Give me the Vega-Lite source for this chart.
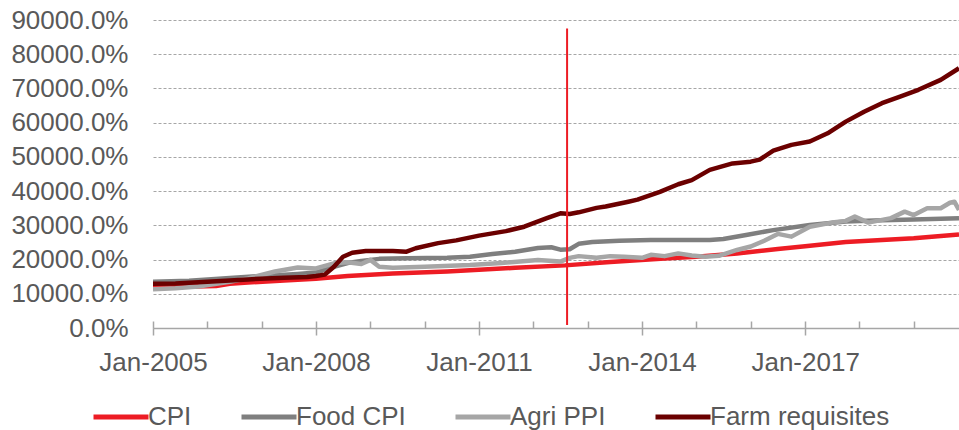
{
  "$schema": "https://vega.github.io/schema/vega-lite/v6.json",
  "width": 806,
  "height": 308,
  "autosize": {"type": "none"},
  "padding": {"left": 153, "top": 20, "right": 0, "bottom": 102},
  "config": {
    "view": {"stroke": null},
    "font": "Liberation Sans",
    "axis": {
      "labelFont": "Liberation Sans",
      "labelFontSize": 26,
      "labelColor": "#595959",
      "domainColor": "#A6A6A6",
      "tickColor": "#A6A6A6",
      "domainWidth": 1.5,
      "tickWidth": 1.5
    }
  },
  "resolve": {"axis": {"x": "independent", "y": "independent"}},
  "layer": [
    {
      "data": {"values": [
        {"date": "2005-01-01", "series": "CPI", "value": 12000},
        {"date": "2005-10-01", "series": "CPI", "value": 12100},
        {"date": "2006-03-01", "series": "CPI", "value": 12300},
        {"date": "2006-06-01", "series": "CPI", "value": 12900},
        {"date": "2006-10-01", "series": "CPI", "value": 13300},
        {"date": "2007-06-01", "series": "CPI", "value": 13900},
        {"date": "2008-01-01", "series": "CPI", "value": 14400},
        {"date": "2008-08-01", "series": "CPI", "value": 15200},
        {"date": "2009-06-01", "series": "CPI", "value": 15900},
        {"date": "2010-06-01", "series": "CPI", "value": 16500},
        {"date": "2011-01-01", "series": "CPI", "value": 17000},
        {"date": "2011-09-01", "series": "CPI", "value": 17600},
        {"date": "2012-08-01", "series": "CPI", "value": 18300},
        {"date": "2013-06-01", "series": "CPI", "value": 19300},
        {"date": "2014-06-01", "series": "CPI", "value": 20300},
        {"date": "2015-01-01", "series": "CPI", "value": 20800},
        {"date": "2015-10-01", "series": "CPI", "value": 21800},
        {"date": "2016-07-01", "series": "CPI", "value": 23100},
        {"date": "2017-01-01", "series": "CPI", "value": 23900},
        {"date": "2017-10-01", "series": "CPI", "value": 25100},
        {"date": "2018-06-01", "series": "CPI", "value": 25700},
        {"date": "2019-01-01", "series": "CPI", "value": 26200},
        {"date": "2019-11-01", "series": "CPI", "value": 27300},

        {"date": "2005-01-01", "series": "Food CPI", "value": 13500},
        {"date": "2005-09-01", "series": "Food CPI", "value": 13800},
        {"date": "2006-06-01", "series": "Food CPI", "value": 14600},
        {"date": "2007-01-01", "series": "Food CPI", "value": 15200},
        {"date": "2007-09-01", "series": "Food CPI", "value": 15800},
        {"date": "2008-01-01", "series": "Food CPI", "value": 16200},
        {"date": "2008-05-01", "series": "Food CPI", "value": 17900},
        {"date": "2008-08-01", "series": "Food CPI", "value": 19000},
        {"date": "2008-11-01", "series": "Food CPI", "value": 19600},
        {"date": "2009-03-01", "series": "Food CPI", "value": 20200},
        {"date": "2009-09-01", "series": "Food CPI", "value": 20400},
        {"date": "2010-06-01", "series": "Food CPI", "value": 20500},
        {"date": "2010-11-01", "series": "Food CPI", "value": 20800},
        {"date": "2011-04-01", "series": "Food CPI", "value": 21600},
        {"date": "2011-09-01", "series": "Food CPI", "value": 22300},
        {"date": "2012-02-01", "series": "Food CPI", "value": 23400},
        {"date": "2012-05-01", "series": "Food CPI", "value": 23600},
        {"date": "2012-07-01", "series": "Food CPI", "value": 22900},
        {"date": "2012-09-01", "series": "Food CPI", "value": 23000},
        {"date": "2012-11-01", "series": "Food CPI", "value": 24600},
        {"date": "2013-02-01", "series": "Food CPI", "value": 25100},
        {"date": "2013-08-01", "series": "Food CPI", "value": 25500},
        {"date": "2014-03-01", "series": "Food CPI", "value": 25700},
        {"date": "2014-09-01", "series": "Food CPI", "value": 25700},
        {"date": "2015-04-01", "series": "Food CPI", "value": 25700},
        {"date": "2015-07-01", "series": "Food CPI", "value": 26000},
        {"date": "2015-12-01", "series": "Food CPI", "value": 27200},
        {"date": "2016-06-01", "series": "Food CPI", "value": 28600},
        {"date": "2017-02-01", "series": "Food CPI", "value": 30100},
        {"date": "2017-10-01", "series": "Food CPI", "value": 31100},
        {"date": "2018-06-01", "series": "Food CPI", "value": 31500},
        {"date": "2019-01-01", "series": "Food CPI", "value": 31700},
        {"date": "2019-11-01", "series": "Food CPI", "value": 32100},

        {"date": "2005-01-01", "series": "Agri PPI", "value": 11300},
        {"date": "2005-06-01", "series": "Agri PPI", "value": 11600},
        {"date": "2005-11-01", "series": "Agri PPI", "value": 12100},
        {"date": "2006-06-01", "series": "Agri PPI", "value": 13500},
        {"date": "2006-10-01", "series": "Agri PPI", "value": 14500},
        {"date": "2007-04-01", "series": "Agri PPI", "value": 16500},
        {"date": "2007-09-01", "series": "Agri PPI", "value": 17700},
        {"date": "2008-01-01", "series": "Agri PPI", "value": 17400},
        {"date": "2008-05-01", "series": "Agri PPI", "value": 18900},
        {"date": "2008-08-01", "series": "Agri PPI", "value": 19200},
        {"date": "2008-11-01", "series": "Agri PPI", "value": 18700},
        {"date": "2009-01-01", "series": "Agri PPI", "value": 19900},
        {"date": "2009-03-01", "series": "Agri PPI", "value": 17900},
        {"date": "2009-06-01", "series": "Agri PPI", "value": 17600},
        {"date": "2010-01-01", "series": "Agri PPI", "value": 17900},
        {"date": "2010-11-01", "series": "Agri PPI", "value": 18400},
        {"date": "2011-06-01", "series": "Agri PPI", "value": 19000},
        {"date": "2012-02-01", "series": "Agri PPI", "value": 19900},
        {"date": "2012-07-01", "series": "Agri PPI", "value": 19400},
        {"date": "2012-09-01", "series": "Agri PPI", "value": 20500},
        {"date": "2012-11-01", "series": "Agri PPI", "value": 21000},
        {"date": "2013-03-01", "series": "Agri PPI", "value": 20500},
        {"date": "2013-06-01", "series": "Agri PPI", "value": 21000},
        {"date": "2013-09-01", "series": "Agri PPI", "value": 20800},
        {"date": "2014-01-01", "series": "Agri PPI", "value": 20500},
        {"date": "2014-03-01", "series": "Agri PPI", "value": 21400},
        {"date": "2014-06-01", "series": "Agri PPI", "value": 21000},
        {"date": "2014-09-01", "series": "Agri PPI", "value": 21800},
        {"date": "2014-12-01", "series": "Agri PPI", "value": 21200},
        {"date": "2015-03-01", "series": "Agri PPI", "value": 20800},
        {"date": "2015-06-01", "series": "Agri PPI", "value": 21100},
        {"date": "2015-10-01", "series": "Agri PPI", "value": 22800},
        {"date": "2016-01-01", "series": "Agri PPI", "value": 23800},
        {"date": "2016-04-01", "series": "Agri PPI", "value": 25500},
        {"date": "2016-07-01", "series": "Agri PPI", "value": 27500},
        {"date": "2016-10-01", "series": "Agri PPI", "value": 26700},
        {"date": "2017-02-01", "series": "Agri PPI", "value": 29600},
        {"date": "2017-07-01", "series": "Agri PPI", "value": 30800},
        {"date": "2017-10-01", "series": "Agri PPI", "value": 31300},
        {"date": "2017-12-01", "series": "Agri PPI", "value": 32600},
        {"date": "2018-03-01", "series": "Agri PPI", "value": 30800},
        {"date": "2018-08-01", "series": "Agri PPI", "value": 32100},
        {"date": "2018-11-01", "series": "Agri PPI", "value": 34000},
        {"date": "2019-01-01", "series": "Agri PPI", "value": 33000},
        {"date": "2019-04-01", "series": "Agri PPI", "value": 35000},
        {"date": "2019-07-01", "series": "Agri PPI", "value": 35000},
        {"date": "2019-09-01", "series": "Agri PPI", "value": 36600},
        {"date": "2019-10-01", "series": "Agri PPI", "value": 36900},
        {"date": "2019-11-01", "series": "Agri PPI", "value": 34500},

        {"date": "2005-01-01", "series": "Farm requisites", "value": 12900},
        {"date": "2005-06-01", "series": "Farm requisites", "value": 13000},
        {"date": "2006-01-01", "series": "Farm requisites", "value": 13500},
        {"date": "2006-10-01", "series": "Farm requisites", "value": 14200},
        {"date": "2007-06-01", "series": "Farm requisites", "value": 14700},
        {"date": "2007-11-01", "series": "Farm requisites", "value": 14900},
        {"date": "2008-01-01", "series": "Farm requisites", "value": 15200},
        {"date": "2008-03-01", "series": "Farm requisites", "value": 15600},
        {"date": "2008-05-01", "series": "Farm requisites", "value": 17900},
        {"date": "2008-07-01", "series": "Farm requisites", "value": 20800},
        {"date": "2008-09-01", "series": "Farm requisites", "value": 22000},
        {"date": "2008-12-01", "series": "Farm requisites", "value": 22500},
        {"date": "2009-06-01", "series": "Farm requisites", "value": 22500},
        {"date": "2009-09-01", "series": "Farm requisites", "value": 22300},
        {"date": "2009-11-01", "series": "Farm requisites", "value": 23300},
        {"date": "2010-04-01", "series": "Farm requisites", "value": 24800},
        {"date": "2010-08-01", "series": "Farm requisites", "value": 25600},
        {"date": "2011-01-01", "series": "Farm requisites", "value": 27000},
        {"date": "2011-07-01", "series": "Farm requisites", "value": 28300},
        {"date": "2011-11-01", "series": "Farm requisites", "value": 29600},
        {"date": "2012-04-01", "series": "Farm requisites", "value": 32100},
        {"date": "2012-07-01", "series": "Farm requisites", "value": 33500},
        {"date": "2012-09-01", "series": "Farm requisites", "value": 33300},
        {"date": "2012-11-01", "series": "Farm requisites", "value": 33800},
        {"date": "2013-03-01", "series": "Farm requisites", "value": 35100},
        {"date": "2013-05-01", "series": "Farm requisites", "value": 35500},
        {"date": "2013-10-01", "series": "Farm requisites", "value": 36900},
        {"date": "2013-12-01", "series": "Farm requisites", "value": 37500},
        {"date": "2014-05-01", "series": "Farm requisites", "value": 39800},
        {"date": "2014-09-01", "series": "Farm requisites", "value": 42000},
        {"date": "2014-12-01", "series": "Farm requisites", "value": 43200},
        {"date": "2015-04-01", "series": "Farm requisites", "value": 46200},
        {"date": "2015-09-01", "series": "Farm requisites", "value": 48100},
        {"date": "2016-01-01", "series": "Farm requisites", "value": 48600},
        {"date": "2016-03-01", "series": "Farm requisites", "value": 49200},
        {"date": "2016-06-01", "series": "Farm requisites", "value": 51800},
        {"date": "2016-10-01", "series": "Farm requisites", "value": 53500},
        {"date": "2017-02-01", "series": "Farm requisites", "value": 54500},
        {"date": "2017-06-01", "series": "Farm requisites", "value": 56900},
        {"date": "2017-10-01", "series": "Farm requisites", "value": 60300},
        {"date": "2018-02-01", "series": "Farm requisites", "value": 63200},
        {"date": "2018-06-01", "series": "Farm requisites", "value": 65700},
        {"date": "2018-10-01", "series": "Farm requisites", "value": 67600},
        {"date": "2019-02-01", "series": "Farm requisites", "value": 69600},
        {"date": "2019-07-01", "series": "Farm requisites", "value": 72500},
        {"date": "2019-11-01", "series": "Farm requisites", "value": 75900}
      ]},
      "mark": {"type": "line", "strokeWidth": 4.5, "strokeJoin": "round", "clip": true},
      "encoding": {
        "x": {
          "field": "date", "type": "temporal",
          "scale": {"type": "utc", "domain": [1104537600000, 1572566400000]},
          "axis": {
            "orient": "bottom", "title": null,
            "values": [1104537600000, 1136073600000, 1167609600000, 1199145600000, 1230768000000, 1262304000000, 1293840000000, 1325376000000, 1356998400000, 1388534400000, 1420070400000, 1451606400000, 1483228800000, 1514764800000, 1546300800000],
            "tickSize": -7, "labels": false, "grid": false, "domain": true
          }
        },
        "y": {
          "field": "value", "type": "quantitative",
          "scale": {"domain": [0, 90000], "nice": false},
          "axis": {
            "title": null,
            "values": [0, 10000, 20000, 30000, 40000, 50000, 60000, 70000, 80000, 90000],
            "labelExpr": "format(datum.value, '.1f') + '%'",
            "labelOverlap": false,
            "domain": false, "ticks": false, "grid": true,
            "gridColor": "#A6A6A6", "gridDash": [3, 2], "gridWidth": 1,
            "labelPadding": 25
          }
        },
        "color": {
          "field": "series", "type": "nominal",
          "scale": {
            "domain": ["CPI", "Food CPI", "Agri PPI", "Farm requisites"],
            "range": ["#ED1C24", "#7F7F7F", "#A6A6A6", "#6B0000"]
          },
          "legend": {
            "title": null, "orient": "none", "direction": "horizontal",
            "legendX": -62, "legendY": 367, "padding": 0,
            "symbolType": "stroke", "symbolSize": 3025, "symbolStrokeWidth": 5,
            "labelFont": "Liberation Sans", "labelFontSize": 26, "labelColor": "#595959",
            "labelOffset": -3, "columnPadding": 39, "labelLimit": 400
          }
        }
      }
    },
    {
      "data": {"values": [{"date": "2012-08-15", "lo": 900, "hi": 87500}]},
      "mark": {"type": "rule", "color": "#ED1C24", "strokeWidth": 2},
      "encoding": {
        "x": {
          "field": "date", "type": "temporal",
          "axis": {
            "orient": "bottom", "title": null,
            "values": [1104537600000, 1199145600000, 1293840000000, 1388534400000, 1483228800000],
            "labelExpr": "utcFormat(datum.value, '%b-%Y')",
            "tickSize": 7, "labelPadding": 14, "domain": false, "grid": false,
            "labelFlush": false, "labelOverlap": false
          }
        },
        "y": {"field": "lo", "type": "quantitative", "axis": null},
        "y2": {"field": "hi"}
      }
    }
  ]
}
